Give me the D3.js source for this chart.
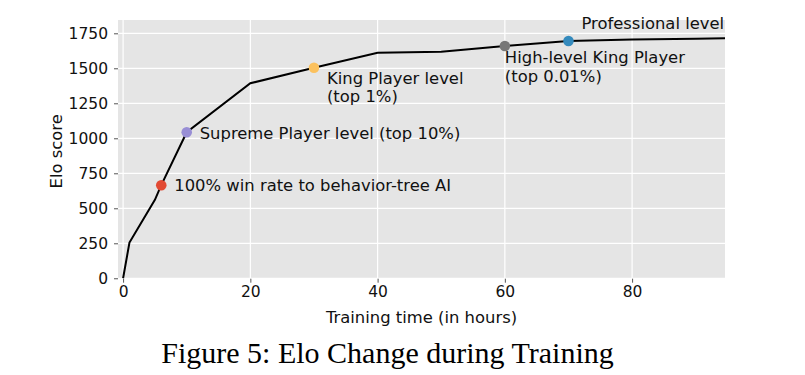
<!DOCTYPE html>
<html><head><meta charset="utf-8">
<script src="https://cdn.jsdelivr.net/npm/d3@7"></script>
<style>body{margin:0;background:#fff}svg{display:block}</style>
</head><body><svg id="c" width="805" height="375"></svg>
<script>
const hours = [0, 1, 5, 6, 10, 20, 30, 40, 50, 60, 70, 80, 90, 100];
const elo   = [0, 255, 560, 665, 1043, 1393, 1504, 1611, 1619, 1659, 1695, 1705, 1711, 1717];
const markHours = [6, 10, 30, 60, 70];
const markElo = [665, 1043, 1504, 1659, 1695];
const markColors = ["#E24A33", "#988ED5", "#FBC15E", "#777777", "#348ABD"];
const markLabels = [["100% win rate to behavior-tree AI"], ["Supreme Player level (top 10%)"], ["King Player level", "(top 1%)"], ["High-level King Player", "(top 0.01%)"], ["Professional level"]];
const xTicks = [0, 20, 40, 60, 80];
const yTicks = [0, 250, 500, 750, 1000, 1250, 1500, 1750];

const svg = d3.select("#c");
const L = 118, R = 725, T = 20, B = 278.7;
const x = d3.scaleLinear().domain([-0.8, 94.6]).range([L, R]);
const y = d3.scaleLinear().domain([-3, 1845]).range([B, T]);
const font = "DejaVu Sans, sans-serif";

svg.append("rect").attr("x", L).attr("y", T).attr("width", R - L).attr("height", B - T).attr("fill", "#E5E5E5");
svg.append("defs").append("clipPath").attr("id", "clip").append("rect").attr("x", L).attr("y", T).attr("width", R - L).attr("height", B - T);

const g = svg.append("g");
g.selectAll("line.gx").data(xTicks).join("line").attr("x1", d => x(d)).attr("x2", d => x(d)).attr("y1", T).attr("y2", B).attr("stroke", "#fff").attr("stroke-width", 1.2);
g.selectAll("line.gy").data(yTicks).join("line").attr("y1", d => y(d)).attr("y2", d => y(d)).attr("x1", L).attr("x2", R).attr("stroke", "#fff").attr("stroke-width", 1.2);

const xAxis = svg.append("g").attr("transform", `translate(0,${B})`).call(d3.axisBottom(x).tickValues(xTicks).tickSize(4).tickPadding(3));
const yAxis = svg.append("g").attr("transform", `translate(${L},0)`).call(d3.axisLeft(y).tickValues(yTicks).tickSize(4).tickPadding(6).tickFormat(d3.format("d")));
[xAxis, yAxis].forEach(a => {
  a.select(".domain").remove();
  a.selectAll("line").attr("stroke", "#555").attr("stroke-width", 1);
  a.selectAll("text").attr("font-family", font).attr("font-size", 15.5).attr("fill", "#111");
});

const line = d3.line().x((d, i) => x(hours[i])).y(d => y(d));
svg.append("path").datum(elo).attr("clip-path", "url(#clip)").attr("d", line).attr("fill", "none").attr("stroke", "#000").attr("stroke-width", 2);

svg.selectAll("circle.m").data(markElo).join("circle").attr("cx", (d, i) => x(markHours[i])).attr("cy", d => y(d)).attr("r", 5.3).attr("fill", (d, i) => markColors[i]);

const offs = [[13, 5.5], [13, 6.5], [13, 16], [0, 17], [13, -12]];
markLabels.forEach((lines, i) => {
  const t = svg.append("text").attr("font-family", font).attr("font-size", 16.4).attr("fill", "#111")
    .attr("x", x(markHours[i]) + offs[i][0]).attr("y", y(markElo[i]) + offs[i][1]);
  lines.forEach((s, j) => t.append("tspan").attr("x", x(markHours[i]) + offs[i][0]).attr("dy", j ? 18.5 : 0).text(s));
});

svg.append("text").attr("x", (L + R) / 2).attr("y", 322.5).attr("text-anchor", "middle").attr("font-family", font).attr("font-size", 16.4).attr("fill", "#111").text("Training time (in hours)");
svg.append("text").attr("transform", `translate(62,${(T + B) / 2 + 2}) rotate(-90)`).attr("text-anchor", "middle").attr("font-family", font).attr("font-size", 16.4).attr("fill", "#111").text("Elo score");
svg.append("text").attr("x", 387.5).attr("y", 363).attr("text-anchor", "middle").attr("font-family", "Liberation Serif, Times New Roman, serif").attr("font-size", 30).attr("fill", "#000").text("Figure 5: Elo Change during Training");
</script></body></html>
